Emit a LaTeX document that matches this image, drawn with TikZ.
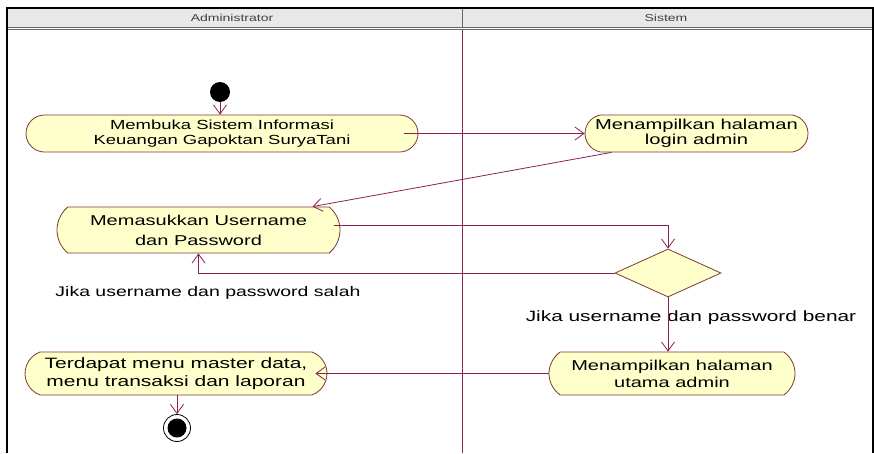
\documentclass[tikz,border=0pt]{standalone}
\usepackage{fontspec}
\setmainfont{Liberation Sans}[FakeStretch=1.4]
\usetikzlibrary{shapes.misc,shapes.geometric,arrows.meta,calc}
\definecolor{flow}{HTML}{8A1F55}
\definecolor{edge}{HTML}{7A3A30}
\definecolor{actfill}{HTML}{FFFFCC}
\definecolor{hdr}{HTML}{E8E8E8}
\definecolor{hdrtxt}{HTML}{404040}
\begin{document}
\begin{tikzpicture}[x=1pt,y=-1pt,
  act/.style={rounded rectangle, draw=edge, fill=actfill,
    line width=0.8pt, align=center, inner sep=0pt, text=black},
  dec/.style={diamond, draw=edge, fill=actfill, line width=0.8pt, inner sep=0pt,
    minimum width=106pt, minimum height=48pt},
  flowline/.style={draw=flow, line width=0.8pt, -{Straight Barb[length=9pt,width=13pt,line width=0.8pt]}},
  lbl/.style={text=black, inner sep=0pt},
  lanehdr/.style={font=\fontsize{10}{11}\selectfont, text=hdrtxt, inner sep=0pt}
]
\useasboundingbox (0,0) rectangle (874,453);
% swimlane frame
\fill[hdr] (8,9) rectangle (872,28);
\draw[line width=0.8pt, black!60] (8,27) -- (872,27);
\draw[line width=0.8pt, black!60] (8,29.5) -- (872,29.5);
\draw[line width=0.8pt, black!60] (462,9) -- (462,28);
\draw[line width=2.4pt, black] (7,453) -- (7,8) -- (873,8) -- (873,453);
\draw[flow, line width=0.8pt] (462,30) -- (462,453);
\node[lanehdr] (h1) at (232,18) {Administrator};
\node[lanehdr] (h2) at (666,18) {Sistem};

% nodes
\node[circle, fill=black, minimum size=20pt, inner sep=0pt] (start) at (220,92) {};
\node[act, rounded rectangle arc length=180, minimum width=392pt, minimum height=37pt, font=\fontsize{13.2}{15}\selectfont] (a1) at (222,133.5)
  {Membuka Sistem Informasi\\Keuangan Gapoktan SuryaTani};
\node[act, rounded rectangle arc length=160, minimum width=223pt, minimum height=37pt, font=\fontsize{14.4}{15}\selectfont] (a2) at (696.5,133.5)
  {Menampilkan halaman\\login admin};
\node[act, rounded rectangle arc length=100, minimum width=283pt, minimum height=46pt, font=\fontsize{14.3}{20}\selectfont] (a3) at (198.5,230)
  {Memasukkan Username\\dan Password};
\node[dec] (d) at (668,273) {};
\node[act, rounded rectangle arc length=110, minimum width=246pt, minimum height=43pt, font=\fontsize{14.3}{17}\selectfont] (a4) at (672,373.5)
  {Menampilkan halaman\\utama admin};
\node[act, rounded rectangle arc length=140, minimum width=302pt, minimum height=43pt, font=\fontsize{15}{18}\selectfont] (a5) at (176,373.5)
  {Terdapat menu master data,\\menu transaksi dan laporan};
\node[circle, draw=black, line width=0.8pt, minimum size=27pt, inner sep=0pt] (fin) at (177,428) {};
\node[circle, fill=black, minimum size=19pt, inner sep=0pt] (finin) at (fin) {};

% labels
\node[lbl, font=\fontsize{13.9}{15}\selectfont] (l1) at (208,293) {Jika username dan password salah};
\node[lbl, font=\fontsize{14.9}{15}\selectfont] (l2) at (691,318) {Jika username dan password benar};

% flows
\draw[flowline] (start) -- (a1.north -| start);
\draw[flowline] ($(a1.east)+(-14,0)$) -- (a2.west);
\draw[flowline] ($(a2.south)+(-85,0)$) -- ($(a3.north)+(114,0)$);
\draw[flowline] ($(a3.east)+(-6,-5)$) -| (d.north);
\draw[flowline] (d.west) -| (a3.south);
\draw[flowline] (d.south) -- (d.south |- a4.north);
\draw[flowline] (a4.west) -- ($(a5.east)+(-12,0)$);
\draw[flowline] (a5.south -| fin) -- (fin.north);
\end{tikzpicture}
\end{document}
